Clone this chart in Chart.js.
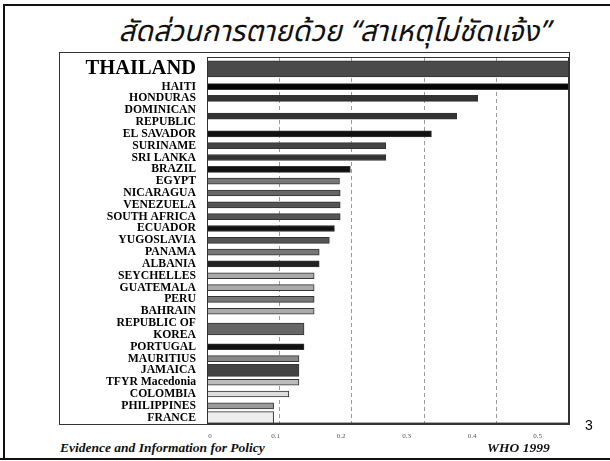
<!DOCTYPE html>
<html>
<head>
<meta charset="utf-8">
<script src="https://cdn.jsdelivr.net/npm/chart.js@4/dist/chart.umd.min.js"></script>
<style>
    body { margin: 0; background: #fff; }
    #slide { position: relative; width: 610px; height: 461px; overflow: hidden; font-family: "Liberation Serif", serif; }
    .line { position: absolute; background: #111; }
    #title { position: absolute; left: 0; top: 10px; width: 668px; text-align: center; font-family: "Noto Sans Thai", "Noto Sans", sans-serif; font-style: italic; font-size: 29px; color: #111; white-space: nowrap; }
    #box { position: absolute; left: 59px; top: 52px; width: 509px; height: 371px; border: 1px solid #333; }
    #chartWrap { position: absolute; left: 59px; top: 52px; }
    .foot { position: absolute; top: 440px; font-weight: bold; font-style: italic; font-size: 13.5px; color: #111; }
    #page { position: absolute; left: 585px; top: 417px; font-family: "Liberation Sans", Arial, sans-serif; font-size: 14px; }
</style>
</head>
<body>
<div id="slide">
    <div class="line" style="left:3px; top:4px; width:607px; height:2px;"></div>
    <div class="line" style="left:3px; top:4px; width:2px; height:455px;"></div>
    <div class="line" style="left:0; top:458px; width:610px; height:2px;"></div>
    <div id="title">สัดส่วนการตายด้วย “สาเหตุไม่ชัดแจ้ง”</div>
    <div id="box"></div>
    <div id="chartWrap"><canvas id="undeterminedDeaths" width="515" height="388"></canvas></div>
    <div class="foot" style="left:60px;">Evidence and Information for Policy</div>
    <div class="foot" style="left:487px;">WHO 1999</div>
    <div id="page">3</div>
</div>
<script>
const countries = [
    'THAILAND', 'HAITI', 'HONDURAS', ['DOMINICAN', 'REPUBLIC'], 'EL SAVADOR',
    'SURINAME', 'SRI LANKA', 'BRAZIL', 'EGYPT', 'NICARAGUA', 'VENEZUELA',
    'SOUTH AFRICA', 'ECUADOR', 'YUGOSLAVIA', 'PANAMA', 'ALBANIA', 'SEYCHELLES',
    'GUATEMALA', 'PERU', 'BAHRAIN', ['REPUBLIC OF', 'KOREA'], 'PORTUGAL',
    'MAURITIUS', 'JAMAICA', 'TFYR Macedonia', 'COLOMBIA', 'PHILIPPINES', 'FRANCE'
];
// proportion of deaths with ill-defined cause (Thailand, Haiti run past the axis)
const proportions = [
    0.55, 0.55, 0.374, 0.345, 0.31,
    0.247, 0.247, 0.198, 0.183, 0.184, 0.184,
    0.184, 0.176, 0.169, 0.155, 0.155, 0.148,
    0.148, 0.148, 0.148, 0.134, 0.134,
    0.127, 0.127, 0.127, 0.113, 0.092, 0.092
];
const tickValues = [0, 0.1, 0.2, 0.3, 0.4, 0.5];

const barColors = [
    '#4a4a4a', '#050505', '#333333', '#333333', '#111111',
    '#444444', '#333333', '#111111', '#777777', '#666666', '#555555',
    '#555555', '#111111', '#555555', '#777777', '#222222', '#aaaaaa',
    '#aaaaaa', '#777777', '#aaaaaa', '#666666', '#111111',
    '#888888', '#444444', '#bbbbbb', '#dddddd', '#999999', '#eeeeee'
];
const bigRows = [0];
const wideRows = [20, 23, 27];

// each country takes as many label lines as it needs (the big title row takes two)
const rowHeights = countries.map((c, i) => (bigRows.includes(i) ? 2 : (Array.isArray(c) ? c.length : 1)));
const rowCentres = [];
let used = 0;
rowHeights.forEach(h => {
    rowCentres.push(used + h / 2);
    used += h;
});
const totalLines = used;

function points(filter) {
    const out = [];
    proportions.forEach((v, i) => {
        if (filter(i)) {
            out.push({ x: v, y: rowCentres[i], row: i });
        }
    });
    return out;
}

const plotFrame = {
    id: 'plotFrame',
    afterDatasetsDraw(chart) {
        const ctx = chart.ctx;
        const a = chart.chartArea;
        ctx.save();
        ctx.strokeStyle = '#333';
        ctx.lineWidth = 1;
        ctx.strokeRect(a.left + 0.5, a.top + 0.5, a.right - a.left - 1, a.bottom - a.top - 1);
        ctx.restore();
    }
};

const baseBar = {
    backgroundColor: ctx => (ctx.raw ? barColors[ctx.raw.row] : '#555'),
    borderColor: '#333',
    borderWidth: 1,
    grouped: false
};

const chartData = {
    datasets: [
        Object.assign({}, baseBar, { data: points(i => bigRows.includes(i)), barThickness: 16 }),
        Object.assign({}, baseBar, { data: points(i => wideRows.includes(i)), barThickness: 12 }),
        Object.assign({}, baseBar, { data: points(i => !bigRows.includes(i) && !wideRows.includes(i)), barThickness: 6 })
    ]
};

function rowOf(value) {
    return rowCentres.indexOf(value);
}

new Chart(document.getElementById('undeterminedDeaths'), {
    type: 'bar',
    data: chartData,
    options: {
        indexAxis: 'y',
        responsive: false,
        animation: false,
        layout: { padding: { top: 5, right: 5, left: 0, bottom: 0 } },
        plugins: { legend: { display: false }, tooltip: { enabled: false } },
        scales: {
            x: {
                min: 0,
                max: 0.5,
                ticks: { display: false, stepSize: 0.1 },
                grid: {
                    drawTicks: false,
                    color: ctx => (ctx.tick && ctx.tick.value > 0 && ctx.tick.value < 0.5 ? '#9a9a9a' : 'rgba(0,0,0,0)')
                },
                border: { display: true, color: '#333', dash: [4, 3] }
            },
            x2: {
                type: 'linear',
                position: 'bottom',
                min: -0.0046,
                max: 0.548,
                afterBuildTicks: scale => { scale.ticks = tickValues.map(v => ({ value: v })); },
                ticks: {
                    padding: 0,
                    color: '#555',
                    font: { family: 'Liberation Serif', size: 7 },
                    callback: v => String(v)
                },
                grid: { display: false },
                border: { display: false }
            },
            y: {
                type: 'linear',
                reverse: true,
                offset: false,
                min: 0,
                max: totalLines,
                afterBuildTicks: scale => { scale.ticks = rowCentres.map(v => ({ value: v })); },
                ticks: {
                    autoSkip: false,
                    padding: 3,
                    color: '#000',
                    callback: v => (rowOf(v) >= 0 ? countries[rowOf(v)] : null),
                    font: ctx => (ctx.tick && bigRows.includes(rowOf(ctx.tick.value))
                        ? { family: 'Liberation Serif', size: 20.5, weight: 'bold' }
                        : { family: 'Liberation Serif', size: 11.7, weight: 'bold', lineHeight: 1.0 })
                },
                grid: { display: false, offset: false },
                border: { display: true, color: '#333' },
                afterFit: scale => {
                    scale.width = 148;
                    scale.paddingTop = 0;
                    scale.paddingBottom = 0;
                }
            }
        }
    },
    plugins: [plotFrame]
});
</script>
</body>
</html>
